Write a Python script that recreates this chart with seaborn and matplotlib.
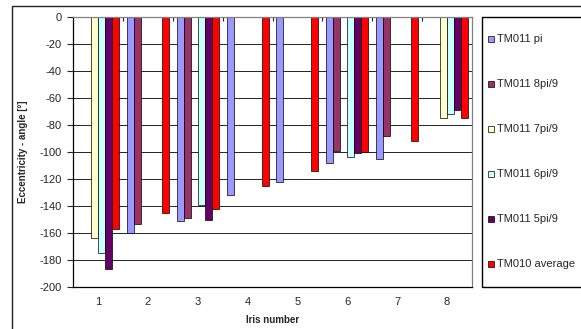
import numpy as np
import pandas as pd
import seaborn as sns
import matplotlib.pyplot as plt
from matplotlib.patches import Rectangle

# Data (nan = no bar in that group)
iris = ['1', '2', '3', '4', '5', '6', '7', '8']
series = ['TM011 pi', 'TM011 8pi/9', 'TM011 7pi/9', 'TM011 6pi/9', 'TM011 5pi/9', 'TM010 average']
colors = ['#9999FF', '#993366', '#FFFFCC', '#CCFFFF', '#660066', '#FF0000']

nan = np.nan
tm011_pi = [nan, -160, -151, -132, -122, -108, -105, nan]
tm011_8pi9 = [nan, -153, -149, nan, nan, -99, -88, nan]
tm011_7pi9 = [-164, nan, nan, nan, nan, nan, nan, -75]
tm011_6pi9 = [-175, nan, -139, nan, nan, -104, nan, -72]
tm011_5pi9 = [-187, nan, -150, nan, nan, -101, nan, -69]
tm010_avg = [-157, -145, -142, -125, -114, -100, -92, -75]

y_ticks = list(range(-200, 1, 20))


def main():
    values = [tm011_pi, tm011_8pi9, tm011_7pi9, tm011_6pi9, tm011_5pi9, tm010_avg]
    rows = []
    for name, vals in zip(series, values):
        for x, v in zip(iris, vals):
            rows.append({'iris': x, 'series': name, 'angle': v})
    df = pd.DataFrame(rows).dropna()

    sns.set_style('white')
    plt.rcParams['font.family'] = ['Liberation Sans', 'DejaVu Sans']
    plt.rcParams['axes.unicode_minus'] = False

    W, H = 581, 329
    fig = plt.figure(figsize=(W / 100, H / 100), dpi=100)
    ax = fig.add_axes([73 / W, (H - 287) / H, 399 / W, 270 / H])

    sns.barplot(data=df, x='iris', y='angle', hue='series', order=iris,
                hue_order=series, palette=dict(zip(series, colors)),
                saturation=1, width=0.84, edgecolor='black', linewidth=0.5,
                errorbar=None, legend=False, ax=ax)

    ax.set_xlim(-0.5, len(iris) - 0.5)
    ax.set_ylim(-200, 0)
    ax.set_yticks(y_ticks)
    ax.yaxis.grid(True, color='black', linewidth=0.6)
    ax.set_axisbelow(True)

    for side in ['left', 'bottom']:
        ax.spines[side].set_color('black')
        ax.spines[side].set_linewidth(0.9)
    for side in ['right', 'top']:
        ax.spines[side].set_color('#808080')
        ax.spines[side].set_linewidth(0.9)

    ax.tick_params(axis='y', left=True, direction='out', length=4, width=0.8,
                   pad=4, labelsize=8)
    ax.tick_params(axis='x', which='major', length=0, pad=7, labelsize=8)
    ax.set_xticks(np.arange(0.5, len(iris) - 1, 1), minor=True)
    ax.tick_params(axis='x', which='minor', top=True, bottom=False,
                   direction='in', length=3, width=0.8)

    ax.set_xlabel('Iris number', fontsize=7, fontweight='bold')
    ax.set_ylabel('Eccentricity - angle [°]', fontsize=7, fontweight='bold')
    ax.xaxis.set_label_coords(0.5, -0.105)
    ax.yaxis.set_label_coords(-0.113, 0.5)

    # legend box on the right, cut off by the figure edge like the original
    fig.patches.append(Rectangle((482 / W, (H - 287) / H), 0.3, 270 / H,
                                 transform=fig.transFigure, fill=False,
                                 edgecolor='black', linewidth=1))
    for i, (name, c) in enumerate(zip(series, colors)):
        y = 1 - (39 + 45 * i) / H
        fig.patches.append(Rectangle((488 / W, y - 3 / H), 6 / W, 6 / H,
                                     transform=fig.transFigure, facecolor=c,
                                     edgecolor='black', linewidth=0.5))
        fig.text(497 / W, y, name, fontsize=8, va='center', ha='left')

    # outer chart frame
    fig.patches.append(Rectangle((12 / W, -0.1), 1.2, (H - 6) / H + 0.1,
                                 transform=fig.transFigure, fill=False,
                                 edgecolor='#222222', linewidth=1))

    plt.savefig('out.png', dpi=100)
    plt.close()


if __name__ == '__main__':
    main()
